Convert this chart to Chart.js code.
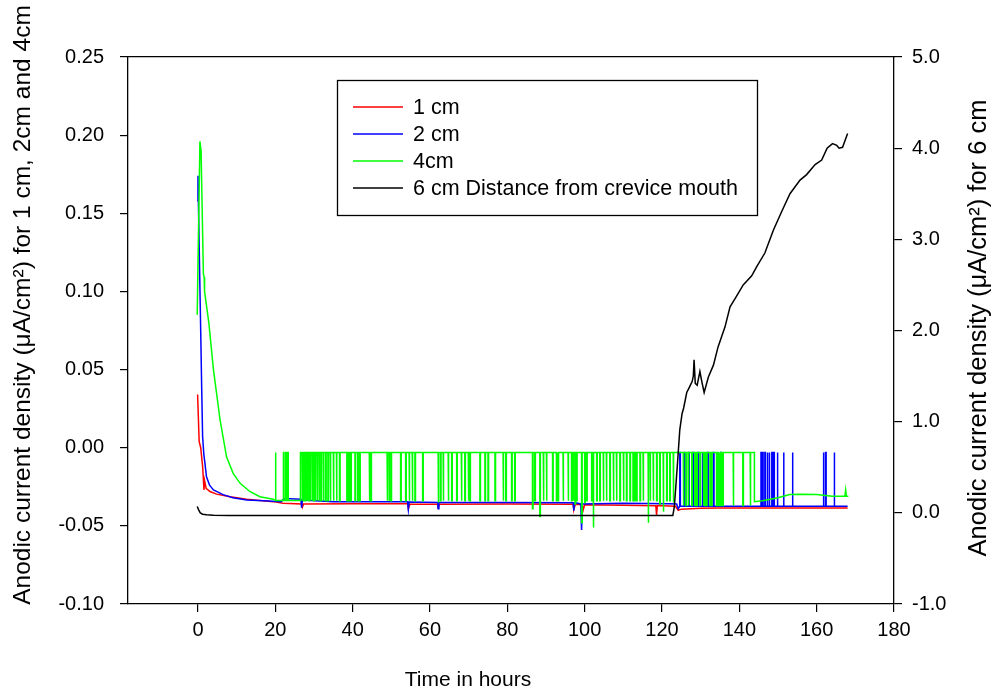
<!DOCTYPE html>
<html lang="en">
<head>
  <meta charset="utf-8">
  <title>Anodic current density vs time</title>
  <script src="https://cdn.jsdelivr.net/npm/chart.js@4.4.3/dist/chart.umd.min.js"></script>
  <style>
    html, body { margin: 0; padding: 0; background: #fff; }
    #crevChart { display: block; }
  </style>
</head>
<body>
  <canvas id="crevChart" width="1002" height="694"></canvas>

  <script>
    // --- data (time in hours) ---

    // 1 cm (left axis)
    const redT = [-0.1, 0.3, 0.7, 1.2, 1.55, 1.7, 2.1, 3.1, 4.8, 8.3, 12.6, 19.5, 22, 26.8, 27, 27.3, 40, 54.2, 54.4, 54.8, 62, 62.1, 62.5, 80, 97, 97.2, 97.6, 99.4, 99.6, 100, 110, 118.4, 118.6, 118.8, 123.5, 124.2, 125, 130, 135, 145, 168];
    const redY = [0.034, 0.004, 0.0, -0.012, -0.027, -0.021, -0.026, -0.028, -0.0297, -0.0314, -0.033, -0.0345, -0.0355, -0.036, -0.038, -0.036, -0.0358, -0.0358, -0.039, -0.0362, -0.0362, -0.038, -0.0362, -0.036, -0.0362, -0.0395, -0.0362, -0.0365, -0.040, -0.0365, -0.0368, -0.0372, -0.043, -0.037, -0.0375, -0.040, -0.0393, -0.0388, -0.0386, -0.0385, -0.0385];

    // 2 cm (left axis)
    const blueT = [-0.2, 0.0, 0.1, 0.7, 0.95, 1.2, 1.5, 1.8, 2.2, 3.0, 4.0, 6.5, 9, 12.6, 17, 21.5, 22.3, 26.6, 26.8, 27, 35, 54.2, 54.4, 54.6, 62.0, 62.1, 62.3, 80, 97.0, 97.2, 97.4, 99.0, 99.2, 99.4, 110, 122, 123.8, 124.2, 125, 168];
    const blueY = [0.158, 0.174, 0.158, 0.075, 0.039, 0.007, -0.004, -0.010, -0.0186, -0.024, -0.027, -0.030, -0.032, -0.0335, -0.034, -0.0345, -0.0325, -0.033, -0.0384, -0.0335, -0.0345, -0.0345, -0.0395, -0.0348, -0.035, -0.039, -0.035, -0.035, -0.0352, -0.0403, -0.0352, -0.036, -0.0527, -0.036, -0.0355, -0.0358, -0.036, -0.039, -0.0374, -0.0374];
    const blueSpikes = [124.6, 125.8, 126.9, 128.0, 129.3, 130.4, 131.8, 133.3, 135.2, 145.6, 146.0, 146.6, 147.2, 147.7, 148.4, 148.9, 149.8, 151.4, 153.7, 161.7, 162.3, 164.5];
    const blueSpikeTop = -0.003;
    const blueBase = -0.0374;

    // 4cm (left axis)
    const greenDecayT = [-0.2, 0.5, 0.8, 1.4, 1.6, 1.7, 2.8, 4.0, 5.7, 7.4, 9.1, 10.9, 13.4, 16.0, 19.5];
    const greenDecayY = [0.085, 0.196, 0.19, 0.111, 0.109, 0.100, 0.080, 0.050, 0.018, -0.006, -0.0164, -0.0228, -0.028, -0.0314, -0.033];
    const greenHigh = -0.003;
    const greenLow = -0.0338;
    const greenSpikes = [20.0, 22.1, 22.7, 23.2];
    const greenHighFrom = 26.5;
    const greenHighTo = 143.9;
    // [time, bottom of the dip]
    const greenDips = [
      [26.9, -0.034], [27.3, -0.034], [27.8, -0.034], [28.2, -0.034], [28.6, -0.034], [29.0, -0.034], [29.5, -0.034],
      [29.9, -0.034], [30.3, -0.034], [30.8, -0.034], [31.3, -0.034], [31.8, -0.034], [32.4, -0.034], [33.0, -0.034],
      [33.6, -0.034], [34.2, -0.034], [35.0, -0.034], [35.8, -0.034], [36.6, -0.034], [38.5, -0.034], [39.0, -0.034],
      [39.5, -0.034], [40.6, -0.034], [41.3, -0.034], [41.8, -0.034], [44.3, -0.034], [44.7, -0.034], [48.9, -0.034],
      [49.4, -0.034], [49.9, -0.034], [52.4, -0.034], [53.7, -0.034], [54.6, -0.034], [55.4, -0.034], [56.1, -0.034],
      [58.1, -0.034], [62.1, -0.035], [62.7, -0.034], [63.4, -0.034], [64.7, -0.034], [65.6, -0.034], [66.9, -0.034],
      [68.1, -0.034], [69.0, -0.034], [69.9, -0.034], [70.3, -0.034], [72.9, -0.034], [74.2, -0.034], [75.0, -0.034],
      [76.8, -0.034], [78.9, -0.034], [79.6, -0.034], [81.1, -0.034], [81.9, -0.034], [86.5, -0.039], [87.1, -0.034],
      [88.4, -0.044], [89.3, -0.034], [90.1, -0.034], [91.7, -0.034], [92.7, -0.034], [93.1, -0.034], [94.4, -0.034],
      [95.7, -0.034], [96.6, -0.034], [97.0, -0.034], [97.5, -0.036], [97.9, -0.034], [99.2, -0.048], [100.0, -0.035],
      [100.5, -0.034], [101.8, -0.034], [102.2, -0.051], [103.1, -0.034], [103.9, -0.034], [104.8, -0.034], [105.6, -0.034],
      [106.5, -0.034], [107.4, -0.034], [108.2, -0.034], [109.1, -0.034], [110.0, -0.034], [110.8, -0.034], [111.7, -0.034],
      [112.5, -0.034], [113.0, -0.034], [113.4, -0.034], [114.3, -0.034], [115.1, -0.034], [116.4, -0.048], [116.9, -0.034],
      [117.7, -0.034], [118.6, -0.034], [119.4, -0.036], [120.3, -0.041], [121.2, -0.034], [122.0, -0.034], [122.9, -0.035],
      [125.5, -0.037], [126.2, -0.037], [126.8, -0.037], [127.7, -0.037], [128.5, -0.037], [129.0, -0.037], [129.8, -0.037],
      [130.7, -0.037], [131.1, -0.037], [131.5, -0.037], [132.4, -0.037], [132.8, -0.037], [134.1, -0.037], [134.6, -0.037],
      [135.0, -0.037], [135.4, -0.037], [135.7, -0.037], [138.4, -0.037], [140.9, -0.037], [142.8, -0.037]
    ];
    const greenTailT = [143.9, 146, 150, 153, 156, 160, 164, 167.3, 167.5, 167.7, 168.2];
    const greenTailY = [-0.0345, -0.034, -0.032, -0.030, -0.0297, -0.030, -0.031, -0.031, -0.027, -0.031, -0.031];

    // 6 cm (right axis)
    const blackT = [-0.2, 0.2, 0.6, 1.2, 2.2, 4, 8, 30, 60, 90, 122.8, 123.2, 124.0, 124.6, 125.2, 125.6, 126.4, 127.0, 127.8, 128.1, 128.3, 128.6, 129.1, 129.8, 130.3, 130.9, 132.0, 133.3, 134.5, 136.3, 137.6, 138.9, 141.0, 143.2, 144.5, 146.6, 148.8, 150.9, 153.1, 155.7, 157.4, 159.6, 161.3, 162.7, 164.1, 165.2, 165.8, 166.7, 168.0];
    const blackY = [0.07, 0.03, 0.0, -0.015, -0.022, -0.027, -0.03, -0.03, -0.03, -0.03, -0.03, 0.07, 0.54, 0.91, 1.09, 1.15, 1.32, 1.37, 1.44, 1.5, 1.68, 1.42, 1.40, 1.55, 1.44, 1.32, 1.49, 1.62, 1.82, 2.04, 2.26, 2.35, 2.50, 2.60, 2.70, 2.85, 3.10, 3.30, 3.50, 3.65, 3.71, 3.82, 3.87, 4.00, 4.05, 4.03, 4.00, 4.01, 4.16];

    const seriesLabels = ['1 cm', '2 cm', '4cm', '6 cm Distance from crevice mouth'];
    const seriesColors = ['#ff0000', '#0000ff', '#00ff00', '#000000'];

    const xTicks = [0, 20, 40, 60, 80, 100, 120, 140, 160, 180];
    const yLeftTicks = [-0.10, -0.05, 0.00, 0.05, 0.10, 0.15, 0.20, 0.25];
    const yRightTicks = [-1, 0, 1, 2, 3, 4, 5];

    const xTitle = 'Time in hours';
    const yLeftTitle = 'Anodic current density (\u03BCA/cm\u00B2) for 1 cm, 2cm and 4cm';
    const yRightTitle = 'Anodic current density (\u03BCA/cm\u00B2) for 6 cm';

    const FONT = '"Liberation Sans", Arial, sans-serif';
    const W = 0.15; // width of a square dip / spike in hours

    function pts(ts, ys) {
      return ts.map((t, i) => ({ x: t, y: ys[i] }));
    }

    function buildBlue() {
      const out = pts(blueT, blueY).filter(p => p.x < 124.5);
      blueSpikes.forEach(t => {
        out.push({ x: t, y: blueBase }, { x: t, y: blueSpikeTop }, { x: t + W, y: blueSpikeTop }, { x: t + W, y: blueBase });
      });
      out.push({ x: 168, y: blueBase });
      return out;
    }

    function buildGreen() {
      const out = pts(greenDecayT, greenDecayY);
      greenSpikes.forEach(t => {
        out.push({ x: t, y: greenLow }, { x: t, y: greenHigh }, { x: t + W, y: greenHigh }, { x: t + W, y: greenLow });
      });
      out.push({ x: greenHighFrom, y: greenLow }, { x: greenHighFrom, y: greenHigh });
      greenDips.forEach(([t, low]) => {
        out.push({ x: t, y: greenHigh }, { x: t, y: low }, { x: t + W, y: low }, { x: t + W, y: greenHigh });
      });
      out.push({ x: greenHighTo, y: greenHigh });
      return out.concat(pts(greenTailT, greenTailY));
    }

    const fixTicks = list => scale => { scale.ticks = list.map(v => ({ value: v })); };

    // axis titles drawn at fixed spots, like the original figure
    function rotatedText(ctx, text, x, y, size) {
      ctx.save();
      ctx.fillStyle = '#000';
      ctx.font = size + 'px ' + FONT;
      ctx.textAlign = 'center';
      ctx.textBaseline = 'middle';
      ctx.translate(x, y);
      ctx.rotate(-Math.PI / 2);
      ctx.fillText(text, 0, 0);
      ctx.restore();
    }

    const axisTitles = {
      id: 'axisTitles',
      afterDraw(chart) {
        const ctx = chart.ctx;
        ctx.save();
        ctx.fillStyle = '#000';
        ctx.font = '21px ' + FONT;
        ctx.textAlign = 'center';
        ctx.textBaseline = 'middle';
        ctx.fillText(xTitle, 468, 680);
        ctx.restore();
        rotatedText(ctx, yLeftTitle, 23, 305, 24.5);
        rotatedText(ctx, yRightTitle, 979, 328, 25.5);
      }
    };

    // boxed legend inside the plot
    const boxLegend = {
      id: 'boxLegend',
      afterDatasetsDraw(chart) {
        const ctx = chart.ctx;
        const box = { x: 337, y: 80, w: 420, h: 135 };
        ctx.save();
        ctx.fillStyle = '#fff';
        ctx.fillRect(box.x, box.y, box.w, box.h);
        ctx.strokeStyle = '#000';
        ctx.lineWidth = 1.3;
        ctx.strokeRect(box.x + 0.5, box.y + 0.5, box.w, box.h);
        ctx.font = '21.5px ' + FONT;
        ctx.textBaseline = 'middle';
        chart.data.datasets.forEach((ds, i) => {
          const yy = 107 + i * 27;
          ctx.strokeStyle = ds.borderColor;
          ctx.lineWidth = 1.5;
          ctx.beginPath();
          ctx.moveTo(353, yy);
          ctx.lineTo(403, yy);
          ctx.stroke();
          ctx.fillStyle = '#000';
          ctx.fillText(ds.label, 413, yy + 1);
        });
        ctx.restore();
      }
    };

    const datasets = [
      { label: seriesLabels[0], data: pts(redT, redY), yAxisID: 'y', order: 4 },
      { label: seriesLabels[1], data: buildBlue(), yAxisID: 'y', order: 3 },
      { label: seriesLabels[2], data: buildGreen(), yAxisID: 'y', order: 2 },
      { label: seriesLabels[3], data: pts(blackT, blackY), yAxisID: 'y2', order: 1 }
    ].map((ds, i) => Object.assign(ds, {
      xAxisID: 'x',
      borderColor: seriesColors[i],
      backgroundColor: seriesColors[i],
      borderWidth: 1.5,
      pointRadius: 0,
      showLine: true,
      tension: 0,
      fill: false
    }));

    const tickFont = { family: FONT, size: 20 };
    const axisGrid = { display: true, drawOnChartArea: false, drawTicks: true, tickLength: 8, color: '#000', lineWidth: 1.2 };
    const axisBorder = { display: true, color: '#000', width: 1.3 };

    new Chart(document.getElementById('crevChart'), {
      type: 'scatter',
      data: { datasets: datasets },
      options: {
        responsive: false,
        animation: false,
        devicePixelRatio: 1,
        layout: { padding: { top: 57, left: 0, right: 0, bottom: 0 } },
        plugins: {
          legend: { display: false },
          tooltip: { enabled: false }
        },
        scales: {
          x: {
            type: 'linear', position: 'bottom', min: -18.1, max: 180,
            afterBuildTicks: fixTicks(xTicks),
            afterFit: s => { s.height = 90; },
            ticks: { color: '#000', font: tickFont, padding: 6, maxRotation: 0, callback: v => String(v) },
            grid: axisGrid, border: axisBorder
          },
          xTop: {
            type: 'linear', position: 'top', min: -18.1, max: 180,
            afterFit: s => { s.height = 0; },
            ticks: { display: false },
            grid: { display: false, drawTicks: false },
            border: axisBorder
          },
          y: {
            type: 'linear', position: 'left', min: -0.10, max: 0.25,
            afterBuildTicks: fixTicks(yLeftTicks),
            afterFit: s => { s.width = 128; },
            ticks: { color: '#000', font: tickFont, padding: 16, callback: v => v.toFixed(2) },
            grid: axisGrid, border: axisBorder
          },
          y2: {
            type: 'linear', position: 'right', min: -1, max: 5,
            afterBuildTicks: fixTicks(yRightTicks),
            afterFit: s => { s.width = 108; },
            ticks: { color: '#000', font: tickFont, padding: 10, callback: v => v.toFixed(1) },
            grid: axisGrid, border: axisBorder
          }
        }
      },
      plugins: [axisTitles, boxLegend]
    });
  </script>
</body>
</html>
